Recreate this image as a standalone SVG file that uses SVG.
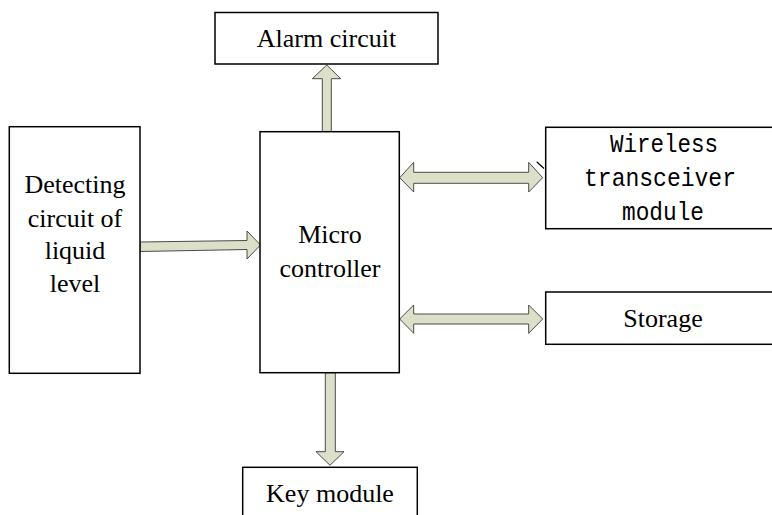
<svg xmlns="http://www.w3.org/2000/svg" width="772" height="515" viewBox="0 0 772 515">
<style>
.box{fill:#fff;stroke:#000;stroke-width:1.5}
.arr{fill:#dde0c9;stroke:#4a4a4a;stroke-width:1}
.t{font-family:'Liberation Serif','DejaVu Serif',serif;font-size:26px;fill:#000;text-anchor:middle}
.m{font-family:'Liberation Mono','DejaVu Sans Mono',monospace;font-size:25px;fill:#000;text-anchor:middle}
</style>
<rect width="772" height="515" fill="#fff"/>
<g id="connectors">
<polygon class="arr" points="322.3,132 322.3,78.7 312.3,78.7 326.8,65 340.7,78.7 331.3,78.7 331.3,132"/>
<polygon class="arr" points="140,242 247,240.5 247,231 260.5,245 247,259 247,249.5 140,251.5"/>
<polygon class="arr" points="399.7,177.7 413.7,162.3 413.7,172.3 528.7,172.3 528.7,162.3 542.7,177.7 528.7,192 528.7,183.3 413.7,183.3 413.7,192"/>
<line x1="536.7" y1="161.7" x2="544" y2="168.5" stroke="#000" stroke-width="1.2"/>
<polygon class="arr" points="399.7,319 413.7,305 413.7,314 528.7,314 528.7,305 542.7,319 528.7,333.3 528.7,324 413.7,324 413.7,333.3"/>
<polygon class="arr" points="325.3,372.7 325.3,451.7 316,451.7 330,465.3 344,451.7 335.3,451.7 335.3,372.7"/>
</g>
<g id="alarm">
<rect class="box" x="215" y="12.5" width="223" height="51.5"/>
<text class="t" x="326.5" y="46.5" font-family="Liberation Serif, serif">Alarm circuit</text>
</g>
<g id="detecting">
<rect class="box" x="9.3" y="126.7" width="130.7" height="246.6"/>
<text class="t" x="75" y="193">Detecting</text>
<text class="t" x="75" y="226.5">circuit of</text>
<text class="t" x="75" y="259">liquid</text>
<text class="t" x="75" y="292">level</text>
</g>
<g id="micro">
<rect class="box" x="260" y="131.7" width="139.3" height="241"/>
<text class="t" x="330" y="243.3">Micro</text>
<text class="t" x="330" y="276.7">controller</text>
</g>
<g id="wireless">
<rect class="box" x="545.7" y="127.3" width="240" height="101.4"/>
<text class="m" x="664" y="152.3" textLength="108" lengthAdjust="spacingAndGlyphs">Wireless</text>
<text class="m" x="660" y="185.5" textLength="152" lengthAdjust="spacingAndGlyphs">transceiver</text>
<text class="m" x="663" y="219.5" textLength="82" lengthAdjust="spacingAndGlyphs">module</text>
</g>
<g id="storage">
<rect class="box" x="545.7" y="292" width="240" height="52.3"/>
<text class="t" x="663" y="327">Storage</text>
</g>
<g id="key">
<rect class="box" x="242.7" y="467.3" width="174.6" height="60"/>
<text class="t" x="330" y="501.7">Key module</text>
</g>
</svg>
